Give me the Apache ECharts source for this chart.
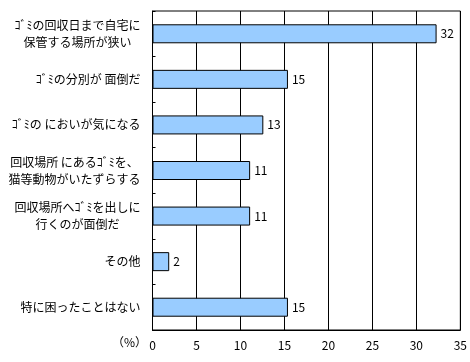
<!DOCTYPE html>
<html><head><meta charset="utf-8">
<script src="https://cdn.jsdelivr.net/npm/echarts@6/dist/echarts.min.js"></script>
<style>html,body{margin:0;padding:0;background:#fff}#c{width:470px;height:362px}</style>
</head><body><div id="c"></div>
<script>
const categories = [
  'ｺﾞﾐの回収日まで自宅に\n保管する場所が狭い',
  'ｺﾞﾐの分別が 面倒だ',
  'ｺﾞﾐの においが気になる',
  '回収場所 にあるｺﾞﾐを、\n猫等動物がいたずらする',
  '回収場所へｺﾞﾐを出しに\n行くのが面倒だ',
  'その他',
  '特に困ったことはない'
];
const values = [32.3, 15.4, 12.6, 11.1, 11.1, 1.9, 15.4];
const valueLabels = ['32', '15', '13', '11', '11', '2', '15'];
const xTicks = [0, 5, 10, 15, 20, 25, 30, 35];

const font = '"Noto Sans CJK JP", sans-serif';
const chart = echarts.init(document.getElementById('c'), null, {renderer: 'canvas'});
chart.setOption({
  animation: false,
  backgroundColor: '#fff',
  grid: {left: 152.5, right: 9.5, top: 11, bottom: 32, show: true, borderColor: '#000', borderWidth: 1},
  xAxis: {
    type: 'value', min: xTicks[0], max: xTicks[xTicks.length - 1], interval: 5,
    axisLine: {show: true, lineStyle: {color: '#000'}},
    axisTick: {show: false},
    splitLine: {show: true, lineStyle: {color: '#000', width: 1}},
    axisLabel: {color: '#000', fontSize: 12, fontFamily: font, margin: 9}
  },
  yAxis: {
    type: 'category', data: categories, inverse: true,
    axisLine: {show: true, lineStyle: {color: '#000'}},
    axisTick: {show: true, inside: true, length: 3, lineStyle: {color: '#000'}},
    axisLabel: {
      color: '#000', fontSize: 12, fontFamily: font, margin: 12, lineHeight: 17,
      formatter: v => '{a|' + v.split('\n').join('}\n{a|') + '}',
      rich: {a: {fontSize: 12, fontFamily: font, color: '#000', lineHeight: 17, align: 'center'}}
    }
  },
  series: [{
    type: 'bar', data: values, barWidth: 19,
    itemStyle: {color: '#99CCFF', borderColor: '#000', borderWidth: 1},
    label: {
      show: true, position: 'right', distance: 4, color: '#000', fontSize: 12, fontFamily: font,
      formatter: p => valueLabels[p.dataIndex]
    }
  }],
  graphic: [{type: 'text', left: 112, top: 336, style: {text: '（%）', font: '12px ' + font, fill: '#000'}}]
});
</script></body></html>
